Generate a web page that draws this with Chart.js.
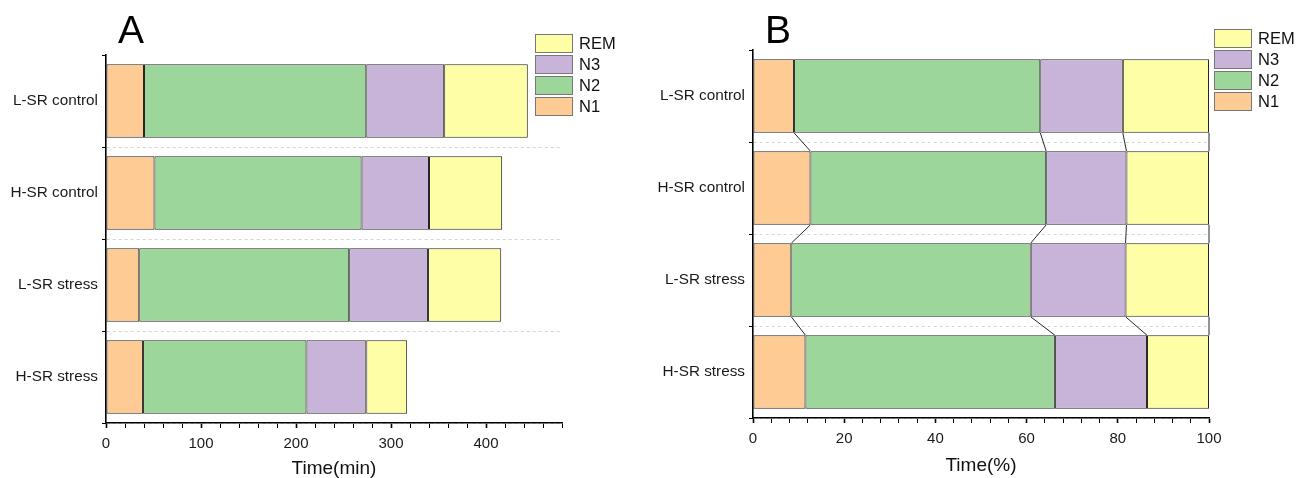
<!DOCTYPE html>
<html>
<head>
<meta charset="utf-8">
<script src="https://cdn.jsdelivr.net/npm/chart.js@4.4.0/dist/chart.umd.min.js"></script>
<style>
  body { margin: 0; background: #fff; font-family: Arial, "Liberation Sans", sans-serif; }
  #wrap { position: relative; width: 1297px; height: 478px; overflow: hidden; }
  .panel { position: absolute; top: 0; height: 478px; }
  .tag { position: absolute; top: 10px; font-size: 39px; line-height: 1; color: #000; }
  .legend { position: absolute; }
  .legend div { display: flex; align-items: center; height: 21px; font-size: 16.5px; color: #111; }
  .legend span { width: 38px; height: 19px; box-sizing: border-box; border: 1.5px solid #777; margin-right: 6px; }
</style>
</head>
<body>
<div id="wrap">
  <div class="panel" style="left:0;width:648px"><canvas id="chA" width="648" height="478"></canvas></div>
  <div class="panel" style="left:648px;width:649px"><canvas id="chB" width="649" height="478"></canvas></div>
  <div class="tag" style="left:118px">A</div>
  <div class="tag" style="left:765px">B</div>
  <div class="legend" id="legA" style="left:535px;top:33px"></div>
  <div class="legend" id="legB" style="left:1214px;top:28px"></div>
</div>
<script>
/* Sleep architecture: minutes (A) and share of time (B) per stage and group. */

const groups = ["L-SR control", "H-SR control", "L-SR stress", "H-SR stress"];
const stages = ["N1", "N2", "N3", "REM"];
const stageColors = ["#fecb94", "#9dd69b", "#c8b4d8", "#fefea6"];

// Panel A, minutes
const minN1 = [40, 51, 35, 39];
const minN2 = [234, 218, 221, 172];
const minN3 = [82, 71, 83, 63];
const minREM = [88, 77, 77, 43];

// Panel B, percent
const pctN1 = [9.0, 12.6, 8.4, 11.5];
const pctN2 = [54.0, 51.7, 52.5, 54.7];
const pctN3 = [18.1, 17.6, 20.8, 20.2];
const pctREM = [18.9, 18.1, 18.3, 13.6];

Chart.defaults.font.family = 'Arial, "Liberation Sans", sans-serif';
Chart.defaults.color = "#1a1a1a";

function datasets(series) {
  return series.map((data, i) => ({
    label: stages[i], data,
    backgroundColor: stageColors[i], borderColor: "#262626", borderWidth: 1,
    borderSkipped: false, categoryPercentage: 1, barPercentage: 0.8,
  }));
}

function options(p) {
  return {
    responsive: false, animation: false, indexAxis: "y",
    layout: { padding: { left: 0, top: p.top, right: p.right, bottom: 0 } },
    plugins: { legend: { display: false }, tooltip: { enabled: false } },
    scales: {
      x: {
        stacked: true, min: 0, max: p.max,
        afterFit: (s) => { s.height = p.xh; },
        ticks: { stepSize: p.step, autoSkip: false, maxRotation: 0, padding: 7,
          font: { size: 15 }, color: "#1a1a1a",
          callback: (v) => (Math.round(v) % p.major === 0 ? Math.round(v) : "") },
        grid: { drawOnChartArea: false, tickLength: 5, tickColor: "#000",
          tickWidth: (c) => (c.tick && Math.round(c.tick.value) % p.major === 0 ? 1.6 : 1) },
        border: { color: "#000", width: 1.6 },
        title: { display: true, text: p.title, color: "#111",
          font: { size: 19, lineHeight: 1 }, padding: { top: 0, bottom: p.tpad } },
      },
      y: {
        stacked: true,
        afterFit: (s) => { s.width = p.yw; },
        ticks: { padding: 4, font: { size: 15.3 }, color: "#1a1a1a" },
        grid: { offset: true, tickLength: 4, tickColor: "#000",
          color: (c) => (c.index === 0 || c.index === groups.length ? "rgba(0,0,0,0)" : "#d4d4d4") },
        border: { color: "#000", width: 1.6, dash: [3, 3] },
      },
    },
  };
}

// lines joining the stage boundaries of neighbouring bars (panel B)
const connectors = {
  id: "connectors",
  afterDatasetsDraw(chart) {
    const ctx = chart.ctx;
    ctx.save();
    ctx.strokeStyle = "#262626";
    ctx.lineWidth = 1;
    chart.data.datasets.forEach((ds, k) => {
      const bars = chart.getDatasetMeta(k).data;
      for (let i = 0; i < bars.length - 1; i++) {
        const a = bars[i], b = bars[i + 1];
        ctx.beginPath();
        ctx.moveTo(a.x, a.y + a.height / 2);
        ctx.lineTo(b.x, b.y - b.height / 2);
        ctx.stroke();
      }
    });
    ctx.restore();
  },
};

function legend(id) {
  document.getElementById(id).innerHTML = stages
    .map((s, i) => `<div><span style="background:${stageColors[i]}"></span>${s}</div>`)
    .reverse().join("");
}

new Chart(document.getElementById("chA"), {
  type: "bar",
  data: { labels: groups, datasets: datasets([minN1, minN2, minN3, minREM]) },
  options: options({ top: 55, right: 86, xh: 55, yw: 106, max: 480, step: 20, major: 100,
    title: "Time(min)", tpad: 0 }),
});

new Chart(document.getElementById("chB"), {
  type: "bar",
  data: { labels: groups, datasets: datasets([pctN1, pctN2, pctN3, pctREM]) },
  options: options({ top: 50, right: 88, xh: 60, yw: 105, max: 100, step: 4, major: 20,
    title: "Time(%)", tpad: 3 }),
  plugins: [connectors],
});

legend("legA");
legend("legB");
</script>
</body>
</html>
